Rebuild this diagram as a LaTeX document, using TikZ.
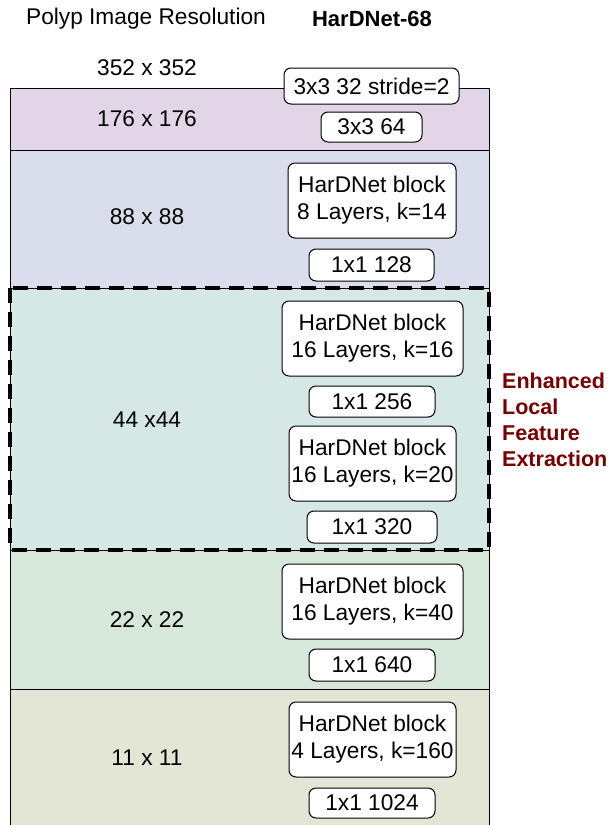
\documentclass[tikz,border=0pt]{standalone}
\usepackage{fontspec}
\setmainfont{Liberation Sans}
\definecolor{bandA}{HTML}{E1D5E7}
\definecolor{bandB}{HTML}{DADDEB}
\definecolor{bandC}{HTML}{D5E8E6}
\definecolor{bandD}{HTML}{D5E8D9}
\definecolor{bandE}{HTML}{E3E6D5}
\definecolor{darkred}{HTML}{780000}
\begin{document}
\begin{tikzpicture}[x=1pt,y=-1pt,
  txt/.style={font=\fontsize{22.7}{27}\selectfont, inner sep=0pt},
  band/.style={draw=black, line width=1pt},
  op/.style={draw=black, fill=white, rounded corners=7pt, line width=1pt,
    font=\fontsize{22.7}{27}\selectfont, align=center, inner sep=0pt},
  dashbox/.style={draw=black, line width=4.5pt, dash pattern=on 15pt off 9pt}
]
\useasboundingbox (0,0) rectangle (613,825);
% bands
\path[band, fill=bandA] (10,88) rectangle (489,150);
\path[band, fill=bandB] (10,150) rectangle (489,288);
\path[band, fill=bandC] (10,288) rectangle (489,550);
\path[band, fill=bandD] (10,550) rectangle (489,689);
\path[band, fill=bandE] (10,689) rectangle (489,835);
% dashed highlight
\draw[dashbox] (10,288) rectangle (489,550);
% headings
\node[txt] (h1) at (146,19) {Polyp Image Resolution};
\node[txt, font=\fontsize{22}{27}\selectfont\bfseries] (h2) at (372,19) {HarDNet-68};
% resolutions
\node[txt] (r0) at (147,68) {352 x 352};
\node[txt] (r1) at (147,119) {176 x 176};
\node[txt] (r2) at (147,217) {88 x 88};
\node[txt] (r3) at (147,420) {44 x44};
\node[txt] (r4) at (147,620) {22 x 22};
\node[txt] (r5) at (147,758) {11 x 11};
% operations
\node[op, minimum width=175pt, minimum height=36pt] (s2) at (371.5,86) {3x3 32 stride=2};
\node[op, minimum width=101pt, minimum height=30pt] (c64) at (371.5,127) {3x3 64};
\node[op, minimum width=168pt, minimum height=75pt] (hb1) at (372,200.5) {HarDNet block\\8 Layers, k=14};
\node[op, minimum width=125pt, minimum height=32pt] (c128) at (371.5,265) {1x1 128};
\node[op, minimum width=181pt, minimum height=75pt] (hb2) at (372.5,338.5) {HarDNet block\\16 Layers, k=16};
\node[op, minimum width=126pt, minimum height=31pt] (c256) at (372,401.5) {1x1 256};
\node[op, minimum width=167pt, minimum height=75pt] (hb3) at (372.5,463.5) {HarDNet block\\16 Layers, k=20};
\node[op, minimum width=130pt, minimum height=32pt] (c320) at (372,527) {1x1 320};
\node[op, minimum width=181pt, minimum height=75pt] (hb4) at (372.5,601.5) {HarDNet block\\16 Layers, k=40};
\node[op, minimum width=126pt, minimum height=32pt] (c640) at (372,665) {1x1 640};
\node[op, minimum width=167pt, minimum height=75pt] (hb5) at (372.5,739.5) {HarDNet block\\4 Layers, k=160};
\node[op, minimum width=126pt, minimum height=30pt] (c1024) at (372,803) {1x1 1024};
% side label
\node[anchor=west, align=left, inner sep=0pt, text=darkred,
  font=\fontsize{21.5}{26}\selectfont\bfseries] (enh) at (502,420)
  {Enhanced\\Local\\Feature\\Extraction};
\end{tikzpicture}
\end{document}
